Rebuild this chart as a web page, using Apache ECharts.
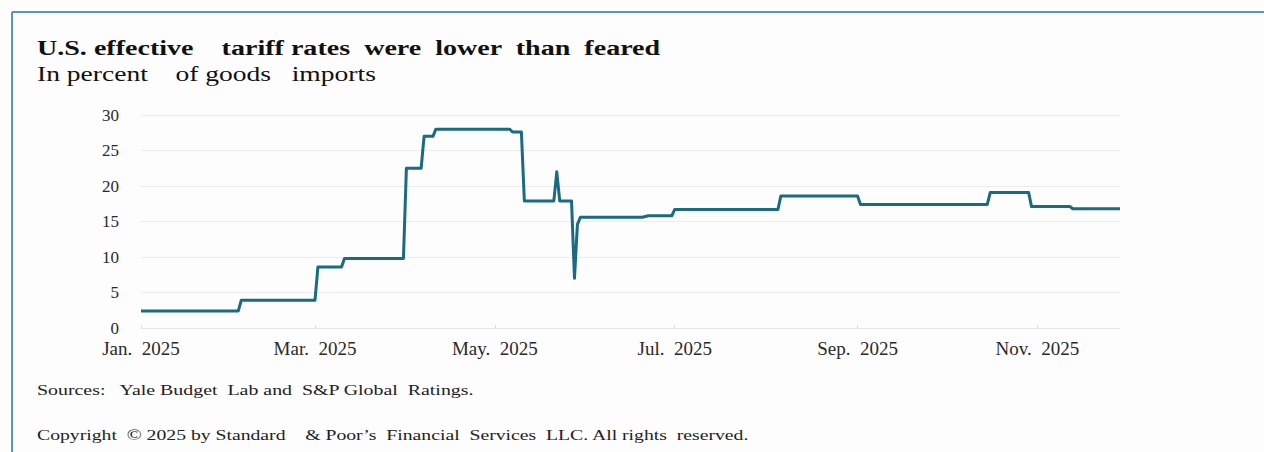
<!DOCTYPE html>
<html>
<head>
<meta charset="utf-8">
<title>U.S. effective tariff rates</title>
<script src="https://cdn.jsdelivr.net/npm/echarts@6/dist/echarts.min.js"></script>
<style>
  html, body { margin: 0; padding: 0; background: #fdfdfd; }
  #chart { width: 1264px; height: 452px; }
</style>
</head>
<body>
<div id="chart"></div>
<script>
// Effective U.S. tariff rate, percent of goods imports (dates where the rate changed)
const dates = [
  '2025-01-01', '2025-02-03', '2025-02-04', '2025-03-01', '2025-03-02',
  '2025-03-10', '2025-03-11', '2025-03-31', '2025-04-01', '2025-04-06',
  '2025-04-07', '2025-04-10', '2025-04-11', '2025-05-06', '2025-05-07',
  '2025-05-10', '2025-05-11', '2025-05-21', '2025-05-22', '2025-05-23',
  '2025-05-27', '2025-05-28', '2025-05-29', '2025-05-30', '2025-06-20',
  '2025-06-22', '2025-06-30', '2025-07-01', '2025-08-05', '2025-08-06',
  '2025-09-01', '2025-09-02', '2025-10-15', '2025-10-16', '2025-10-29',
  '2025-10-30', '2025-11-12', '2025-11-13', '2025-11-29'
];
const rates = [
  2.4, 2.4, 3.9, 3.9, 8.6,
  8.6, 9.8, 9.8, 22.5, 22.5,
  27.0, 27.0, 28.0, 28.0, 27.6,
  27.6, 17.9, 17.9, 22.0, 17.9,
  17.9, 7.0, 14.6, 15.6, 15.6,
  15.8, 15.8, 16.7, 16.7, 18.6,
  18.6, 17.4, 17.4, 19.1, 19.1,
  17.1, 17.1, 16.8, 16.8
];

// x-axis: every other month
const tickMonths = [0, 2, 4, 6, 8, 10];
const tickLabels = ['Jan.  2025', 'Mar.  2025', 'May.  2025', 'Jul.  2025', 'Sep.  2025', 'Nov.  2025'];

const titleText = 'U.S. effective    tariff rates  were  lower  than  feared';
const subtitleText = 'In percent    of goods   imports';
const sourceText = 'Sources:   Yale Budget  Lab and  S&P Global  Ratings.';
const copyrightText = 'Copyright  © 2025 by Standard    & Poor\u2019s  Financial  Services  LLC. All rights  reserved.';

const toTime = s => { const p = s.split('-').map(Number); return +new Date(p[0], p[1] - 1, p[2]); };
const tickValues = tickMonths.map(m => +new Date(2025, m, 1));
const labelByTime = {};
tickValues.forEach((t, i) => { labelByTime[t] = tickLabels[i]; });

const serif = '"Liberation Serif", "Times New Roman", serif';

// Text lines are set in a slightly condensed-looking serif; widen each to its line length.
const measureCtx = document.createElement('canvas').getContext('2d');
function textLine(text, font, x, y, width, fill) {
  measureCtx.font = font;
  const w = measureCtx.measureText(text).width || width;
  return {
    type: 'text', x: x, y: y, scaleX: width / w, silent: true,
    style: { text: text, font: font, fill: fill, textAlign: 'left', textVerticalAlign: 'middle' }
  };
}

const chart = echarts.init(document.getElementById('chart'), null, { renderer: 'svg' });

chart.setOption({
  backgroundColor: '#fdfdfd',
  animation: false,
  grid: { left: 141, right: 144, top: 115, bottom: 124, containLabel: false },
  xAxis: {
    type: 'value',
    min: toTime('2025-01-01'),
    max: toTime('2025-11-29'),
    axisLine: { show: true, lineStyle: { color: '#e6e6e6', width: 1 } },
    axisTick: {
      show: true, inside: true, length: 3,
      customValues: tickValues,
      lineStyle: { color: '#dcdcdc' }
    },
    splitLine: { show: false },
    axisLabel: {
      customValues: tickValues,
      formatter: v => labelByTime[v] || '',
      fontFamily: serif,
      fontSize: 19,
      color: '#2a2a2a',
      margin: 11,
      hideOverlap: false
    }
  },
  yAxis: {
    type: 'value',
    min: 0,
    max: 30,
    interval: 5,
    axisLine: { show: false },
    axisTick: { show: false },
    splitLine: { lineStyle: { color: '#ececec', width: 1 } },
    axisLabel: {
      fontFamily: serif,
      fontSize: 17,
      color: '#2a2a2a',
      margin: 22
    }
  },
  series: [{
    type: 'line',
    data: dates.map((d, i) => [toTime(d), rates[i]]),
    showSymbol: false,
    lineStyle: { color: '#1a6a80', width: 3, join: 'round' },
    itemStyle: { color: '#1a6a80' }
  }],
  graphic: [
    { type: 'line', silent: true, shape: { x1: 12, y1: 12, x2: 1264, y2: 12 },
      style: { stroke: '#5b8ed2', lineWidth: 2 } },
    { type: 'line', silent: true, shape: { x1: 12, y1: 12, x2: 12, y2: 452 },
      style: { stroke: '#5b8ed2', lineWidth: 2 } },
    textLine(titleText, 'bold 20px ' + serif, 37, 48, 624, '#111'),
    textLine(subtitleText, '20px ' + serif, 37, 74, 339, '#111'),
    textLine(sourceText, '14px ' + serif, 37, 391, 438, '#222'),
    textLine(copyrightText, '14px ' + serif, 37, 435, 713, '#222')
  ]
});
</script>
</body>
</html>
